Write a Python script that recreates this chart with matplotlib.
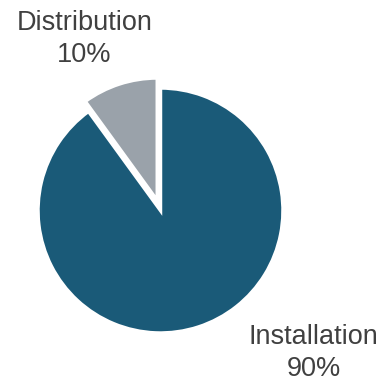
import matplotlib
matplotlib.use("Agg")
import matplotlib.pyplot as plt

categories = ["Distribution", "Installation"]
shares = [10, 90]
colors = ["#9aa2aa", "#1a5a78"]

W, H = 384, 380
fig = plt.figure(figsize=(W / 100, H / 100), dpi=100)
ax = fig.add_axes([0, 0, 1, 1])

ax.pie(shares, colors=colors, startangle=90, counterclock=True,
       explode=[10.5, 0], center=(160.5, H - 210.5), radius=122.5,
       wedgeprops=dict(edgecolor="white", linewidth=2.5), frame=True)
ax.set_xlim(0, W)
ax.set_ylim(0, H)
ax.set_aspect("equal")
ax.axis("off")

tcol = "#404040"
font = "Liberation Sans"
kw = dict(ha="center", va="baseline", fontsize=19.5, color=tcol, family=font)
ax.text(84.5, H - 30.5, categories[0], **kw)
ax.text(84.5, H - 62.5, f"{shares[0]}%", **kw)
ax.text(313.5, H - 343.5, categories[1], **kw)
ax.text(313.5, H - 375.5, f"{shares[1]}%", **kw)

fig.savefig("out.png", dpi=100)
